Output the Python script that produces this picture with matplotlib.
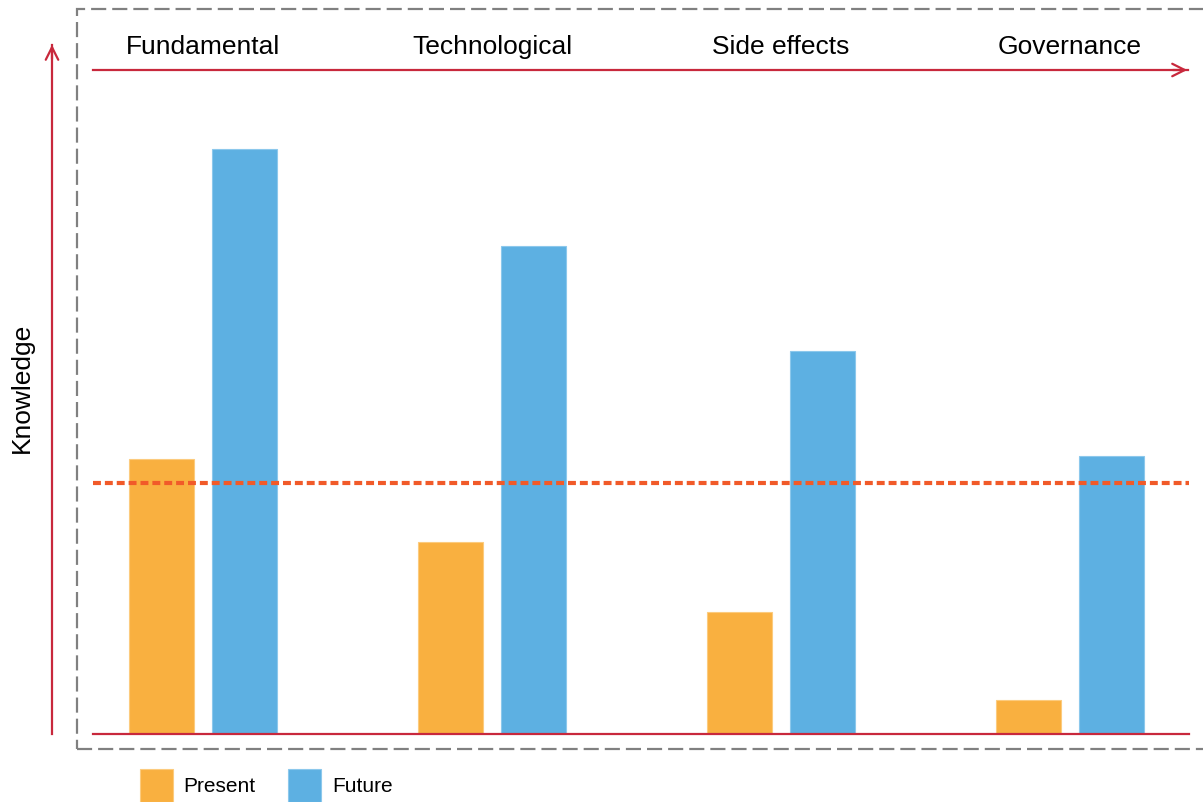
import matplotlib.pyplot as plt
from matplotlib.patches import Rectangle
import numpy as np

plt.rcParams['font.family'] = ['Liberation Sans', 'DejaVu Sans']

# data (knowledge level, arbitrary units)
categories = ["Fundamental", "Technological", "Side effects", "Governance"]
present = [4.14, 2.89, 1.84, 0.51]
future = [8.81, 7.35, 5.77, 4.19]
threshold = 3.78

ORANGE = '#F9B040'
BLUE = '#5DB0E2'
RED = '#C8283C'
W, H = 1203, 803


def fx(px):
    return px / W


def fy(py):
    return 1 - py / H


fig = plt.figure(figsize=(12.03, 8.03), dpi=100)

# main axes: x from 93 to 1189 px, y from 735 (baseline) to 71 px
ax = fig.add_axes([fx(93), fy(735), fx(1189) - fx(93), fy(71) - fy(735)])
ax.set_xlim((93 - 203) / 289, (1189 - 203) / 289)
ax.set_ylim(0, 10)
ax.axis('off')

x = np.arange(len(categories))
bw = 65 / 289
off = 41.5 / 289
ax.bar(x - off, present, bw, color=ORANGE, edgecolor='#FCCB7E', linewidth=0.8, label='Present')
ax.bar(x + off, future, bw, color=BLUE, edgecolor='#8CC8EC', linewidth=0.8, label='Future')

# threshold line
ax.axhline(threshold, color='#F15A29', lw=3, linestyle=(0, (1.9, 0.95)))

# category labels above the arrow
for i, c in enumerate(categories):
    ax.text(i, 10 + 24 / 66.4, c, ha='center', va='center', fontsize=19, clip_on=False)

# baseline
fig.add_artist(plt.Line2D([fx(93), fx(1189)], [fy(735), fy(735)], color=RED, lw=1.6))

# horizontal arrow
fig.add_artist(plt.Line2D([fx(93), fx(1188)], [fy(71), fy(71)], color=RED, lw=1.6))
ax.annotate('', xy=(fx(1190), fy(71)), xytext=(fx(1170), fy(71)),
            xycoords='figure fraction', textcoords='figure fraction',
            arrowprops=dict(arrowstyle='->,head_length=0.9,head_width=0.45', color=RED, lw=1.6))

# vertical arrow
fig.add_artist(plt.Line2D([fx(52), fx(52)], [fy(735), fy(46)], color=RED, lw=1.6))
ax.annotate('', xy=(fx(52), fy(43)), xytext=(fx(52), fy(63)),
            xycoords='figure fraction', textcoords='figure fraction',
            arrowprops=dict(arrowstyle='->,head_length=0.9,head_width=0.45', color=RED, lw=1.6))

fig.text(fx(22), fy(388), 'Knowledge', rotation=90, ha='center', va='center', fontsize=19)

# gray dashed frame (right side runs off the image)
frame = Rectangle((fx(77), fy(750)), fx(1215) - fx(77), fy(10) - fy(750),
                  transform=fig.transFigure, fill=False, edgecolor='#808080',
                  lw=1.6, linestyle=(0, (6.8, 2.7)))
fig.add_artist(frame)

# legend
fig.add_artist(Rectangle((fx(140), fy(803)), fx(33), 33 / H, transform=fig.transFigure,
                         facecolor=ORANGE, edgecolor='#FCCB7E', lw=0.8))
fig.text(fx(183), fy(787), 'Present', ha='left', va='center', fontsize=15)
fig.add_artist(Rectangle((fx(288), fy(803)), fx(33), 33 / H, transform=fig.transFigure,
                         facecolor=BLUE, edgecolor='#8CC8EC', lw=0.8))
fig.text(fx(332), fy(787), 'Future', ha='left', va='center', fontsize=15)

fig.savefig('out.png', dpi=100)
